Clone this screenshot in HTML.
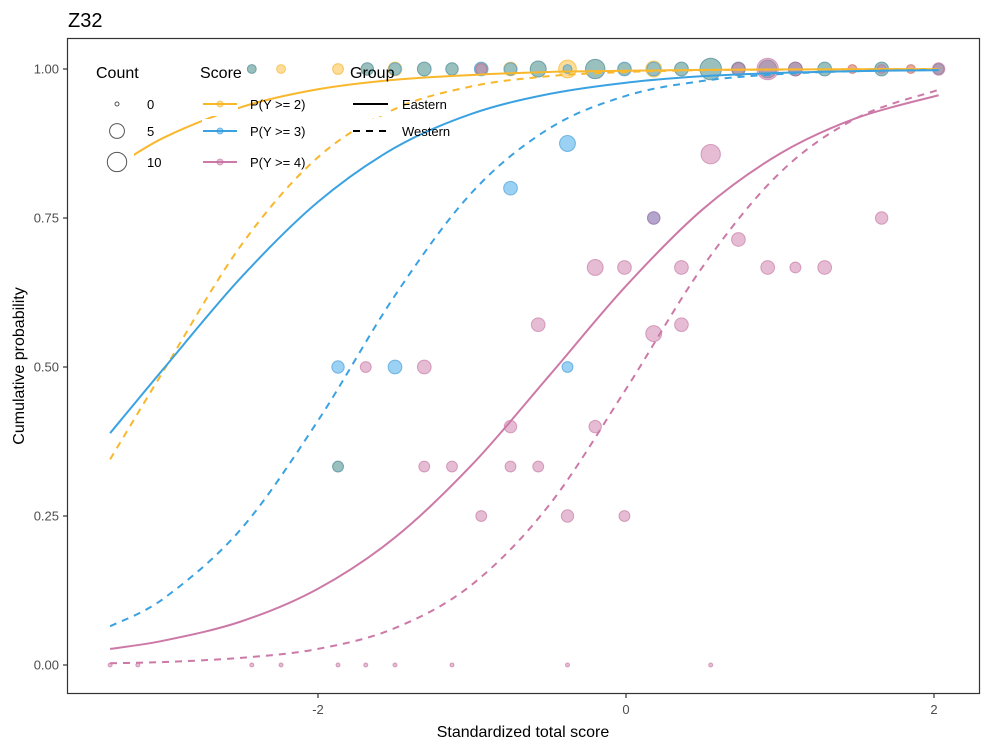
<!DOCTYPE html>
<html><head><meta charset="utf-8"><style>
html,body{margin:0;padding:0;background:#fff;}
svg{display:block;font-family:"Liberation Sans",Arial,sans-serif;}
</style></head><body>
<svg id="chart" width="990" height="750" viewBox="0 0 990 750">
<text x="68" y="27" font-size="20" fill="#000">Z32</text>
<g id="plot"></g>
<rect x="67.5" y="38.5" width="912" height="655" fill="none" stroke="#333" stroke-width="1.2"/>
<g id="axes"></g>
<text x="523" y="737" font-size="16" text-anchor="middle" fill="#000">Standardized total score</text>
<text transform="translate(24,366) rotate(-90)" font-size="16" text-anchor="middle" fill="#000">Cumulative probability</text>
<g id="legend"></g>
</svg>
<script>
// ---- data ----
const curveX = [-3.35,-3,-2.5,-2,-1.5,-1,-0.5,0,0.5,1,1.5,2.03];
const eastP2 = [0.830,0.885,0.936,0.966,0.982,0.990,0.995,0.997,0.9986,0.9993,0.9996,0.9998];
const westP2 = [0.345,0.495,0.704,0.852,0.933,0.971,0.988,0.995,0.998,0.999,0.9996,0.9999];
const eastP3 = [0.389,0.498,0.650,0.777,0.868,0.925,0.958,0.977,0.988,0.9935,0.9965,0.998];
const westP3 = [0.065,0.112,0.228,0.410,0.620,0.793,0.900,0.955,0.980,0.9915,0.9964,0.9985];
const eastP4 = [0.027,0.041,0.073,0.128,0.214,0.336,0.485,0.636,0.765,0.858,0.918,0.956];
const westP4 = [0.003,0.005,0.012,0.027,0.062,0.135,0.268,0.463,0.669,0.826,0.918,0.965];
// points: x, p, count, score
const ptX = [-2.43,-2.43,-2.24,-1.87,-1.68,-1.68,-1.50,-1.50,-1.31,-1.31,-1.13,-1.13,-0.94,-0.94,-0.94,-0.75,-0.75,-0.57,-0.57,-0.38,-0.38,-0.20,-0.20,-0.01,-0.01,0.18,0.18,0.36,0.36,0.55,0.55,0.73,0.73,0.73,0.92,0.92,0.92,1.10,1.10,1.10,1.29,1.29,1.47,1.47,1.66,1.66,1.66,1.85,1.85,2.03,2.03,2.03,
 -1.87,-1.69,-1.50,-1.31,-1.87,-1.87,-1.31,-1.13,-0.75,-0.94,-0.38,-0.75,-0.38,0.55,0.18,0.18,-0.20,-0.01,0.73,-0.57,0.36,0.92,1.10,1.29,1.66,0.18,0.36,-0.75,-0.20,-0.57,-0.38,-0.01,
 -3.35,-3.17,-2.43,-2.24,-1.87,-1.69,-1.50,-1.13,-0.38,0.55];
const ptP = [1,1,1,1,1,1,1,1,1,1,1,1,1,1,1,1,1,1,1,1,1,1,1,1,1,1,1,1,1,1,1,1,1,1,1,1,1,1,1,1,1,1,1,1,1,1,1,1,1,1,1,1,
 0.5,0.5,0.5,0.5,0.333,0.333,0.333,0.333,0.333,0.25,0.5,0.8,0.875,0.857,0.75,0.75,0.667,0.667,0.714,0.571,0.667,0.667,0.667,0.667,0.75,0.556,0.571,0.4,0.4,0.333,0.25,0.25,
 0,0,0,0,0,0,0,0,0,0];
const ptN = [1,1,1,2,3,3,4,3,4,4,3,3,3,4,2,4,3,6,6,8,1,10,10,3,4,6,4,4,4,13,13,4,4,3,8,8,13,4,4,4,4,4,1,1,4,4,1,1,1,2,2,3,
 3,2,4,4,2,2,2,2,2,2,2,4,6,10,3,3,6,4,4,4,4,4,2,4,3,6,4,3,3,2,3,2,
 0,0,0,0,0,0,0,0,0,0];
const ptS = [2,3,2,2,2,3,2,3,2,3,2,3,2,3,4,2,3,2,3,2,3,2,3,2,3,2,3,2,3,2,3,2,3,4,2,3,4,2,3,4,2,3,2,4,2,3,4,2,4,2,3,4,
 3,4,3,4,2,3,4,4,4,4,3,3,3,4,3,4,4,4,4,4,4,4,4,4,4,4,4,4,4,4,4,4,
 4,4,4,4,4,4,4,4,4,4];
const xTicks = [-2,0,2];
const yTicks = [0,0.25,0.5,0.75,1];
const yTickLabels = ["0.00","0.25","0.50","0.75","1.00"];

// ---- scales ----
const sx = v => 626 + 154*v;
const sy = p => 665 - 596*p;
const rad = n => 2 + 2.43*Math.sqrt(n);
const NS="http://www.w3.org/2000/svg";
const fillC = {2:"rgba(251,188,48,0.5)",3:"rgba(56,163,229,0.5)",4:"rgba(204,121,167,0.5)"};
const strokeC = {2:"rgba(240,170,20,0.55)",3:"rgba(40,140,210,0.55)",4:"rgba(190,100,150,0.55)"};
const lineC = {2:"#F9B72B",3:"#3BA2E2",4:"#CC79A7"};
const plot=document.getElementById('plot');
const axes=document.getElementById('axes');
const legend=document.getElementById('legend');
function mk(tag,attrs,parent){const e=document.createElementNS(NS,tag);for(const k in attrs)e.setAttribute(k,attrs[k]);parent.appendChild(e);return e;}

// points
for(let i=0;i<ptX.length;i++){
  const c=mk('circle',{cx:sx(ptX[i]),cy:sy(ptP[i]),r:rad(ptN[i]),fill:fillC[ptS[i]],stroke:strokeC[ptS[i]],'stroke-width':1},plot);
  
  
}
// curves (Catmull-Rom)
function pathFrom(vals){
  const P=curveX.map((x,i)=>[sx(x),sy(vals[i])]);
  let d='M'+P[0][0]+','+P[0][1];
  for(let i=0;i<P.length-1;i++){
    const p0=P[Math.max(0,i-1)],p1=P[i],p2=P[i+1],p3=P[Math.min(P.length-1,i+2)];
    const c1=[p1[0]+(p2[0]-p0[0])/6,p1[1]+(p2[1]-p0[1])/6];
    const c2=[p2[0]-(p3[0]-p1[0])/6,p2[1]-(p3[1]-p1[1])/6];
    d+=' C'+c1[0]+','+c1[1]+' '+c2[0]+','+c2[1]+' '+p2[0]+','+p2[1];
  }
  return d;
}
const curves=[[eastP2,2,false,'curve-eastern-p2'],[westP2,2,true,'curve-western-p2'],[eastP3,3,false,'curve-eastern-p3'],[westP3,3,true,'curve-western-p3'],[eastP4,4,false,'curve-eastern-p4'],[westP4,4,true,'curve-western-p4']];
curves.forEach(c=>{
  const p=mk('path',{d:pathFrom(c[0]),fill:'none',stroke:lineC[c[1]],'stroke-width':2},plot);
  if(c[2])p.setAttribute('stroke-dasharray','7,6');
  
  
});
// axes
xTicks.forEach(t=>{
  const l=mk('line',{x1:sx(t),x2:sx(t),y1:694,y2:698,stroke:'#333','stroke-width':1.2},axes);
  
  
  const tx=mk('text',{x:sx(t),y:714,'font-size':13,fill:'#4d4d4d','text-anchor':'middle'},axes);
  tx.textContent=String(t);
  
  
});
yTicks.forEach((t,i)=>{
  const l=mk('line',{x1:63,x2:67,y1:sy(t),y2:sy(t),stroke:'#333','stroke-width':1.2},axes);
  
  
  const tx=mk('text',{x:59,y:sy(t)+4.5,'font-size':13,fill:'#4d4d4d','text-anchor':'end'},axes);
  tx.textContent=yTickLabels[i];
  
  
});
// legend
function ltext(x,y,s,size,name){const t=mk('text',{x:x,y:y,'font-size':size,fill:'#000'},legend);t.textContent=s;return t;}
const keyY=[104,131,162];
ltext(96,78,'Count',16,'legend-title-count');
[0,5,10].forEach((n,i)=>{
  const b=mk('rect',{x:100,y:keyY[i]-12,width:34,height:24,fill:'#fff'},legend);
  
  
  const c=mk('circle',{cx:117,cy:keyY[i],r:rad(n),fill:'none',stroke:'#555','stroke-width':1},legend);
  
  
  ltext(147,keyY[i]+5,String(n),13,'legend-count-label');
});
ltext(200,78,'Score',16,'legend-title-score');
[2,3,4].forEach((s,i)=>{
  const b=mk('rect',{x:202,y:keyY[i]-12,width:36,height:24,fill:'#fff'},legend);
  
  
  const l=mk('line',{x1:203,x2:237,y1:keyY[i],y2:keyY[i],stroke:lineC[s],'stroke-width':2},legend);
  
  
  const c=mk('circle',{cx:220,cy:keyY[i],r:3,fill:fillC[s],stroke:strokeC[s]},legend);
  
  
  ltext(250,keyY[i]+5,'P(Y >= '+s+')',13,'legend-score-label');
});
ltext(350,78,'Group',16,'legend-title-group');
['Eastern','Western'].forEach((g,i)=>{
  const b=mk('rect',{x:352,y:keyY[i]-12,width:37,height:24,fill:'#fff'},legend);
  
  
  const l=mk('line',{x1:353,x2:388,y1:keyY[i],y2:keyY[i],stroke:'#000','stroke-width':2},legend);
  if(i===1)l.setAttribute('stroke-dasharray','7,6');
  
  
  ltext(402,keyY[i]+5,g,13,'legend-group-label');
});
</script>
</body></html>
